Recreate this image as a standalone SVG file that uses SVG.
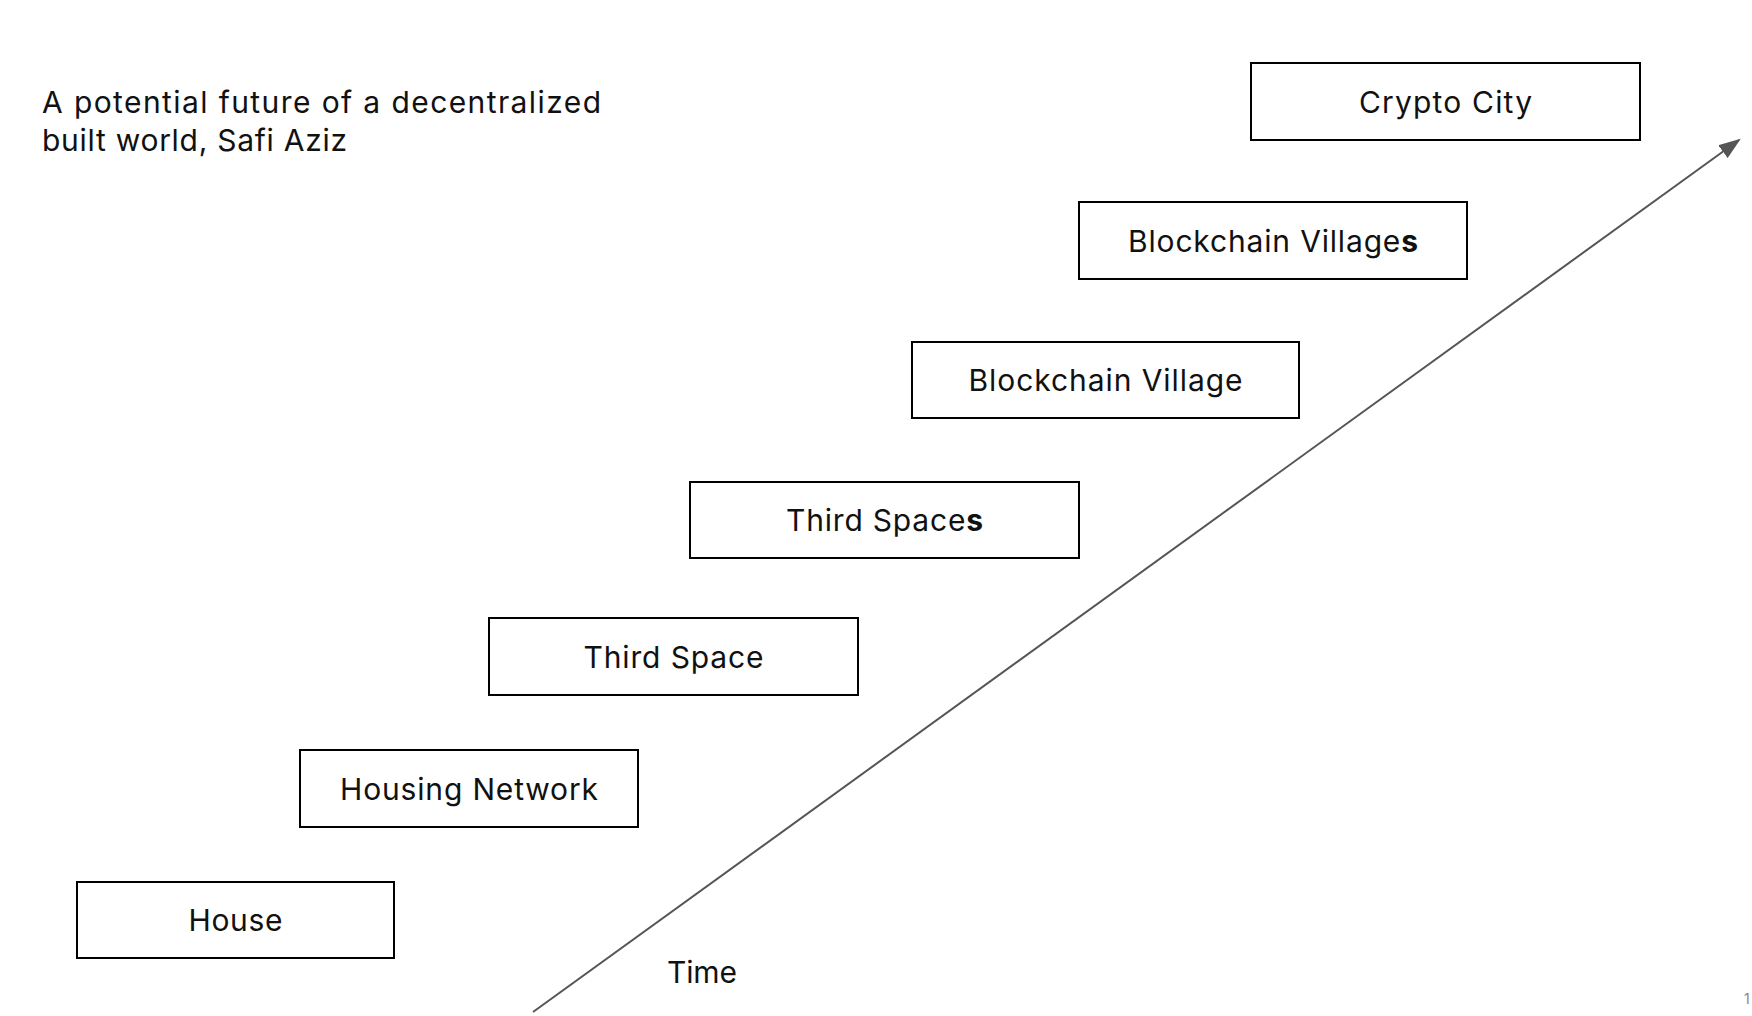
<svg xmlns="http://www.w3.org/2000/svg" width="1752" height="1016" viewBox="0 0 1752 1016">
<style>
.box{fill:#fff;stroke:#000;stroke-width:2}
.lbl{font-family:Inter,"Liberation Sans",sans-serif;font-size:30px;fill:#111;text-anchor:middle}
.txt{font-family:Inter,"Liberation Sans",sans-serif;font-size:30px;fill:#111}
.b{font-weight:bold}
</style>
<defs>
<marker id="ah" viewBox="0 0 10 10" refX="9" refY="5" markerWidth="22" markerHeight="16" orient="auto" markerUnits="userSpaceOnUse" preserveAspectRatio="none">
<path d="M0,0 L10,5 L0,10 z" fill="#555"/>
</marker>
</defs>
<rect width="1752" height="1016" fill="#fff"/>
<g id="title">
<text class="txt" x="42" y="113" textLength="559" lengthAdjust="spacing">A potential future of a decentralized</text>
<text class="txt" x="42" y="151" textLength="305" lengthAdjust="spacing">built world, Safi Aziz</text>
</g>
<g id="connectors">
<line x1="533" y1="1012" x2="1739" y2="140" stroke="#555" stroke-width="2" marker-end="url(#ah)"/>
</g>
<g id="time"><text class="txt" x="667" y="983" textLength="70" lengthAdjust="spacing">Time</text></g>
<g id="crypto-city"><rect class="box" x="1251" y="63" width="389" height="77"/><text class="lbl" x="1445.5" y="112.5" textLength="173" lengthAdjust="spacing">Crypto City</text></g>
<g id="blockchain-villages"><rect class="box" x="1079" y="202" width="388" height="77"/><text class="lbl" x="1273" y="251.5" textLength="290" lengthAdjust="spacing">Blockchain Village<tspan class="b">s</tspan></text></g>
<g id="blockchain-village"><rect class="box" x="912" y="342" width="387" height="76"/><text class="lbl" x="1105.5" y="391" textLength="274" lengthAdjust="spacing">Blockchain Village</text></g>
<g id="third-spaces"><rect class="box" x="690" y="482" width="389" height="76"/><text class="lbl" x="884.5" y="531" textLength="197" lengthAdjust="spacing">Third Space<tspan class="b">s</tspan></text></g>
<g id="third-space"><rect class="box" x="489" y="618" width="369" height="77"/><text class="lbl" x="673.5" y="667.5" textLength="180" lengthAdjust="spacing">Third Space</text></g>
<g id="housing-network"><rect class="box" x="300" y="750" width="338" height="77"/><text class="lbl" x="469" y="799.5" textLength="258" lengthAdjust="spacing">Housing Network</text></g>
<g id="house"><rect class="box" x="77" y="882" width="317" height="76"/><text class="lbl" x="235.5" y="931" textLength="94" lengthAdjust="spacing">House</text></g>
<g id="page"><text x="1744" y="1004" font-family="Inter,'Liberation Sans',sans-serif" font-size="14" fill="#888">1</text></g>
</svg>
